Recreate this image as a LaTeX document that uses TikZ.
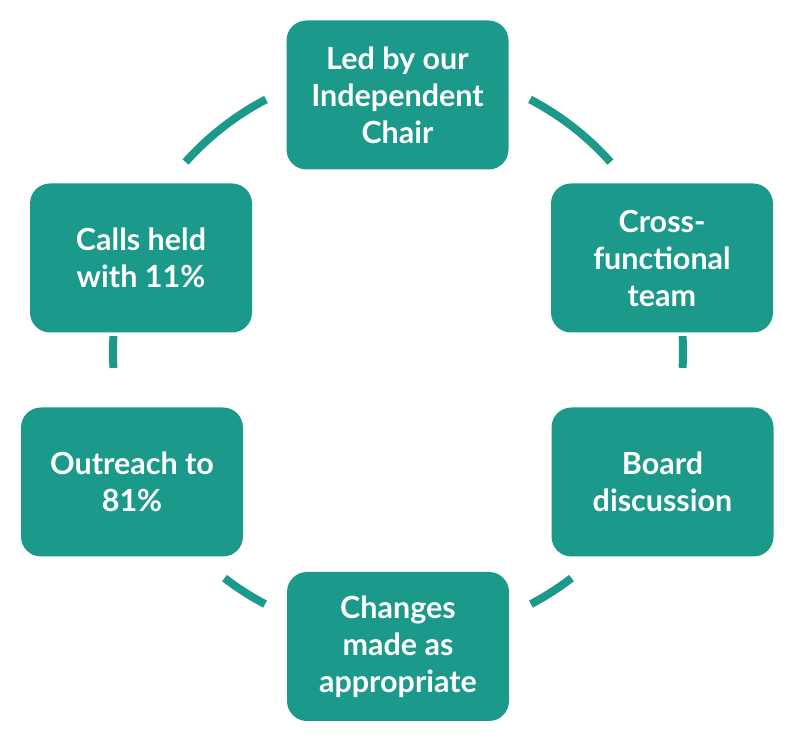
\documentclass[tikz,border=0pt]{standalone}
\usepackage{fontspec}
\setmainfont{Lato}
\definecolor{teal1}{HTML}{1B998B}
\begin{document}
\begin{tikzpicture}[x=1pt,y=1pt,
  stepbox/.style={fill=teal1, rounded corners=20pt, minimum width=222pt, minimum height=149pt,
    text=white, align=center, inner sep=0pt, font=\fontsize{30.5}{37}\selectfont\bfseries},
  ring/.style={draw=teal1, line width=8pt, line cap=butt}]
\useasboundingbox (0,0) rectangle (796,742);
\coordinate (O) at (398,390);
\node[stepbox] (top) at (397.5,647) {Led by our\\Independent\\Chair};
\node[stepbox] (cross) at (662,484) {Cross-\\functional\\team};
\node[stepbox] (board) at (662.5,260) {Board\\discussion};
\node[stepbox] (changes) at (398,95.5) {Changes\\made as\\appropriate};
\node[stepbox] (outreach) at (132,260) {Outreach to\\81\%};
\node[stepbox] (calls) at (141,484) {Calls held\\with 11\%};
\draw[ring] ([shift={(117.6:285)}]O) arc[start angle=117.6, end angle=138.2, radius=285];
\draw[ring] ([shift={(62.4:285)}]O) arc[start angle=62.4, end angle=41.8, radius=285];
\draw[ring] ([shift={(176.8:285)}]O) arc[start angle=176.8, end angle=183.2, radius=285];
\draw[ring] ([shift={(3.2:285)}]O) arc[start angle=3.2, end angle=-3.2, radius=285];
\draw[ring] ([shift={(-127.5:285)}]O) arc[start angle=-127.5, end angle=-117.8, radius=285];
\draw[ring] ([shift={(-62.2:285)}]O) arc[start angle=-62.2, end angle=-52.5, radius=285];
\end{tikzpicture}
\end{document}
